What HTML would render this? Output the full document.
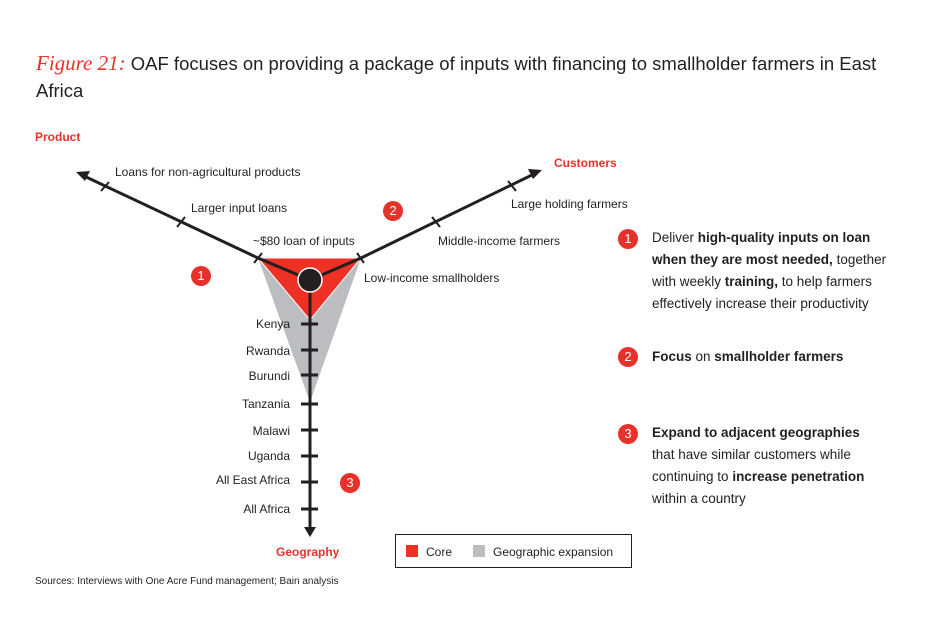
<!DOCTYPE html>
<html><head><meta charset="utf-8"><style>
body{margin:0;width:950px;height:626px;background:#fff;font-family:"Liberation Sans",sans-serif;color:#231f20;overflow:hidden}
.t{position:absolute;left:36px;top:50px;font-size:18.5px;line-height:27px;width:860px}
.t i{color:#e8312a;font-family:"Liberation Serif",serif;font-size:21px}
svg{position:absolute;left:0;top:0}
.r{position:absolute;font-size:13.5px;line-height:22px}
.r b{font-weight:bold}
.n{position:absolute;width:20px;height:20px;border-radius:50%;background:#e8312a;color:#fff;font-size:13px;text-align:center;line-height:20px}
</style></head><body>
<div class="t"><i>Figure 21:</i> OAF focuses on providing a package of inputs with financing to smallholder farmers in East Africa</div>
<svg width="950" height="626" font-family="Liberation Sans, sans-serif" font-size="12" fill="#231f20">
<polygon points="258,258 361,258 310,402" fill="#bcbdc0"/>
<polygon points="258,258 361,258 310,320" fill="#ee3124" stroke="#fff" stroke-width="1"/>
<g stroke="#231f20" stroke-width="3" fill="none">
<polyline points="84,176 258,258 310,280 361,258 534,174"/>
<line x1="310" y1="280" x2="310" y2="528"/>
</g>
<polygon points="76,172 90,171 85,181" fill="#231f20"/>
<polygon points="542,170 528,169 533,179" fill="#231f20"/>
<polygon points="304,527 316,527 310,537" fill="#231f20"/>
<g stroke="#231f20" stroke-width="2">
<line x1="254" y1="263" x2="262" y2="253"/><line x1="177" y1="227" x2="185" y2="217"/><line x1="101" y1="191" x2="109" y2="182"/>
<line x1="357" y1="253" x2="364" y2="263"/><line x1="432" y1="217" x2="440" y2="227"/><line x1="508" y1="181" x2="516" y2="191"/>
</g>
<g stroke="#231f20" stroke-width="3">
<line x1="301" y1="324" x2="318" y2="324"/><line x1="301" y1="350" x2="318" y2="350"/><line x1="301" y1="375" x2="318" y2="375"/><line x1="301" y1="404" x2="318" y2="404"/><line x1="301" y1="430" x2="318" y2="430"/><line x1="301" y1="456" x2="318" y2="456"/><line x1="301" y1="482" x2="318" y2="482"/><line x1="301" y1="509" x2="318" y2="509"/>
</g>
<circle cx="310" cy="280" r="12" fill="#231f20" stroke="#fff" stroke-width="1.5"/>
<text x="35" y="141" fill="#e8312a" font-weight="bold">Product</text>
<text x="554" y="167" fill="#e8312a" font-weight="bold">Customers</text>
<text x="276" y="556" fill="#e8312a" font-weight="bold">Geography</text>
<text x="115" y="176">Loans for non-agricultural products</text>
<text x="191" y="212">Larger input loans</text>
<text x="253" y="245">~$80 loan of inputs</text>
<text x="511" y="208">Large holding farmers</text>
<text x="438" y="245">Middle-income farmers</text>
<text x="364" y="282">Low-income smallholders</text>
<g text-anchor="end">
<text x="290" y="328">Kenya</text><text x="290" y="355">Rwanda</text><text x="290" y="380">Burundi</text><text x="290" y="408">Tanzania</text><text x="290" y="435">Malawi</text><text x="290" y="460">Uganda</text><text x="290" y="484">All East Africa</text><text x="290" y="513">All Africa</text>
</g>
<rect x="395.5" y="534.5" width="236" height="33" fill="none" stroke="#231f20" stroke-width="1"/>
<rect x="406" y="545" width="12" height="12" fill="#ee3124"/>
<text x="426" y="556">Core</text>
<rect x="473" y="545" width="12" height="12" fill="#bcbdc0"/>
<text x="493" y="556">Geographic expansion</text>
<text x="35" y="584" font-size="10">Sources: Interviews with One Acre Fund management; Bain analysis</text>
</svg>
<div class="n" style="left:191px;top:266px">1</div>
<div class="n" style="left:383px;top:201px">2</div>
<div class="n" style="left:340px;top:473px">3</div>
<div class="n" style="left:618px;top:229px">1</div>
<div class="n" style="left:618px;top:347px">2</div>
<div class="n" style="left:618px;top:424px">3</div>
<div class="r" style="left:652px;top:227px;width:245px">Deliver <b>high-quality inputs on loan when they are most needed,</b> together with weekly <b>training,</b> to help farmers effectively increase their productivity</div>
<div class="r" style="left:652px;top:346px"><b>Focus</b> on <b>smallholder farmers</b></div>
<div class="r" style="left:652px;top:422px;width:225px"><b>Expand to adjacent geographies</b> that have similar customers while continuing to <b>increase penetration</b> within a country</div>
</body></html>
